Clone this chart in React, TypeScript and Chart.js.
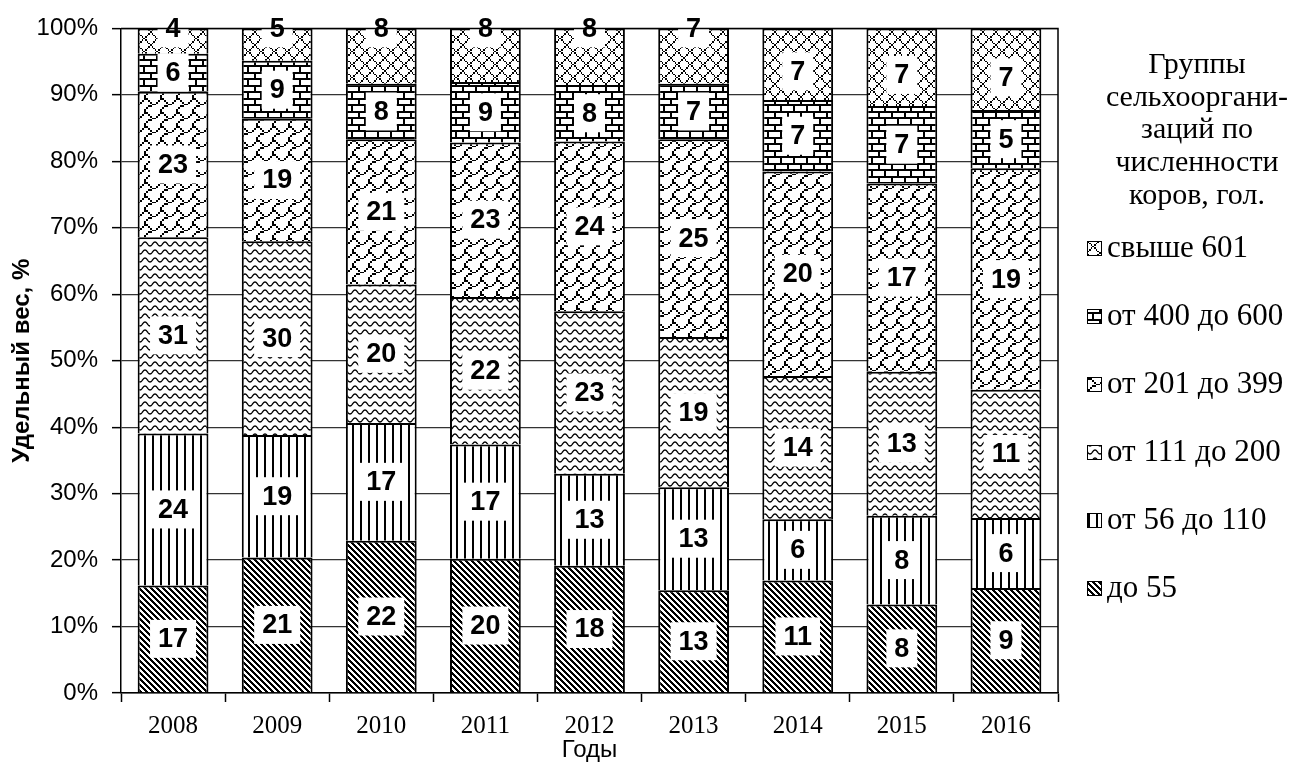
import { useEffect, useRef } from 'react';
import { Chart, registerables } from 'chart.js';

Chart.register(...registerables);

// ---- data ----
const years = ['2008', '2009', '2010', '2011', '2012', '2013', '2014', '2015', '2016'];
const groupNames = ['до 55', 'от 56 до 110', 'от 111 до 200', 'от 201 до 399', 'от 400 до 600', 'свыше 601'];
const upTo55 = [17, 21, 22, 20, 18, 13, 11, 8, 9];
const from56to110 = [24, 19, 17, 17, 13, 13, 6, 8, 6];
const from111to200 = [31, 30, 20, 22, 23, 19, 14, 13, 11];
const from201to399 = [23, 19, 21, 23, 24, 25, 20, 17, 19];
const from400to600 = [6, 9, 8, 9, 8, 7, 7, 7, 5];
const over601 = [4, 5, 8, 8, 8, 7, 7, 7, 7];
const yTickValues = [0, 10, 20, 30, 40, 50, 60, 70, 80, 90, 100];
const yAxisTitle = 'Удельный вес, %';
const xAxisTitle = 'Годы';
const legendTitleLines = ['Группы', 'сельхооргани-', 'заций по', 'численности', 'коров, гол.'];

// ---- pattern helpers ----
function tile(w: number, h: number) {
  const c = document.createElement('canvas');
  c.width = w;
  c.height = h;
  const g = c.getContext('2d')!;
  g.fillStyle = '#fff';
  g.fillRect(0, 0, w, h);
  return { c, g };
}

function bitmapTile(rows: number[], w: number, h: number) {
  const { c, g } = tile(w, h);
  g.fillStyle = '#000';
  for (let py = 0; py < h; py++) {
    for (let px = 0; px < w; px++) {
      const bx = Math.floor((px * 8) / w);
      const by = Math.floor((py * 8) / h);
      if ((rows[by] >> (7 - bx)) & 1) g.fillRect(px, py, 1, 1);
    }
  }
  return c;
}

function makePatterns(ctx: CanvasRenderingContext2D) {
  // до 55: dense downward diagonal
  const d = tile(6, 6);
  d.g.fillStyle = '#000';
  for (let py = 0; py < 6; py++)
    for (let px = 0; px < 6; px++) if ((((px - py) % 6) + 6) % 6 < 3) d.g.fillRect(px, py, 1, 1);

  // от 56 до 110: vertical lines
  const v = tile(8, 8);
  v.g.fillStyle = '#000';
  v.g.fillRect(0, 0, 2, 8);

  // от 111 до 200: horizontal waves
  const w = tile(10, 8);
  w.g.strokeStyle = '#000';
  w.g.lineWidth = 1.3;
  w.g.beginPath();
  for (let x = -1; x <= 11; x += 0.5) {
    const y = 4 + 2 * Math.cos((2 * Math.PI * x) / 10);
    if (x === -1) w.g.moveTo(x, y);
    else w.g.lineTo(x, y);
  }
  w.g.stroke();

  // от 201 до 399: shingle
  const sh = bitmapTile([0xc0, 0x21, 0x12, 0x0c, 0x30, 0x40, 0x80, 0x80], 16, 14);
  // от 400 до 600: horizontal brick
  const br = bitmapTile([0xff, 0x80, 0x80, 0x80, 0xff, 0x08, 0x08, 0x08], 13, 13);
  // свыше 601: outlined diamond
  const di = bitmapTile([0x41, 0x22, 0x14, 0x08, 0x14, 0x22, 0x41, 0x80], 13, 13);

  return [d.c, v.c, w.c, sh, br, di].map((c) => ctx.createPattern(c, 'repeat') as CanvasPattern);
}

export default function App() {
  const ref = useRef<HTMLCanvasElement>(null);

  useEffect(() => {
    const canvas = ref.current!;
    const ctx = canvas.getContext('2d')!;
    const patterns = makePatterns(ctx);
    const series = [upTo55, from56to110, from111to200, from201to399, from400to600, over601];
    const totals = years.map((_, i) => series.reduce((s, arr) => s + arr[i], 0));

    const datasets = series.map((arr, k) => ({
      label: groupNames[k],
      data: arr.map((v, i) => (v / totals[i]) * 100),
      backgroundColor: patterns[k],
      borderColor: '#000',
      borderWidth: 2,
      barPercentage: 0.68,
      categoryPercentage: 1,
    }));

    const labelPlugin = {
      id: 'valueLabels',
      afterDatasetsDraw(chart: any) {
        const c = chart.ctx as CanvasRenderingContext2D;
        c.save();
        c.font = 'bold 27px "Liberation Sans", Arial, sans-serif';
        c.textAlign = 'center';
        c.textBaseline = 'middle';
        const last = series.length - 1;
        series.forEach((arr, k) => {
          const meta = chart.getDatasetMeta(k);
          meta.data.forEach((el: any, i: number) => {
            const top = Math.min(el.y, el.base);
            const bottom = Math.max(el.y, el.base);
            let cy = (top + bottom) / 2;
            if (k === last) {
              const share = (arr[i] / totals[i]) * 100;
              cy = share < 10 ? top : top + 0.6 * (bottom - top);
            }
            const text = String(arr[i]);
            const tw = c.measureText(text).width;
            const bw = tw + 16;
            const bh = 38;
            c.fillStyle = '#fff';
            c.fillRect(el.x - bw / 2, cy - bh / 2, bw, bh);
            c.fillStyle = '#000';
            c.fillText(text, el.x, cy + 1);
          });
        });
        c.restore();
      },
    };

    const framePlugin = {
      id: 'frameAndLegend',
      afterDraw(chart: any) {
        const c = chart.ctx as CanvasRenderingContext2D;
        const a = chart.chartArea;
        c.save();
        c.strokeStyle = '#000';
        c.lineWidth = 1.5;
        c.beginPath();
        c.moveTo(a.left, a.top);
        c.lineTo(a.right, a.top);
        c.lineTo(a.right, a.bottom);
        c.stroke();

        // legend title
        c.fillStyle = '#000';
        c.textAlign = 'center';
        c.textBaseline = 'middle';
        c.font = '30px "Liberation Serif", "Times New Roman", serif';
        legendTitleLines.forEach((line, i) => {
          c.fillText(line, 1197, 65 + i * 32.7);
        });

        // legend items (reverse order)
        c.font = '31px "Liberation Serif", "Times New Roman", serif';
        c.textAlign = 'left';
        const order = groupNames.map((_, k) => k).reverse();
        order.forEach((k, i) => {
          const cy = 248 + i * 68;
          c.fillStyle = patterns[k];
          c.fillRect(1087, cy - 7, 15, 15);
          c.strokeStyle = '#000';
          c.lineWidth = 1;
          c.strokeRect(1087.5, cy - 6.5, 14, 14);
          c.fillStyle = '#000';
          c.fillText(groupNames[k], 1107, cy + 1);
        });
        c.restore();
      },
    };

    const chart = new Chart(ctx, {
      type: 'bar',
      data: { labels: years, datasets: datasets as any },
      options: {
        responsive: false,
        animation: false,
        devicePixelRatio: 1,
        layout: { padding: { left: 0, top: 27, right: 233, bottom: 0 } },
        plugins: { legend: { display: false }, tooltip: { enabled: false } },
        scales: {
          x: {
            stacked: true,
            offset: true,
            grid: {
              display: true,
              drawOnChartArea: false,
              drawTicks: true,
              tickLength: 9,
              tickColor: '#000',
              tickWidth: 1.5,
              offset: true,
            },
            border: { display: true, color: '#000', width: 1.5 },
            ticks: {
              color: '#000',
              font: { family: '"Liberation Serif", "Times New Roman", serif', size: 25 },
              padding: 9,
              maxRotation: 0,
            },
            title: {
              display: true,
              text: xAxisTitle,
              color: '#000',
              font: { family: '"Liberation Sans", Arial, sans-serif', size: 24, lineHeight: 1 },
              padding: { top: 0, bottom: 0 },
            },
            afterFit: (s: any) => {
              s.height = 69;
            },
          },
          y: {
            stacked: true,
            min: 0,
            max: 100,
            afterBuildTicks: (s: any) => {
              s.ticks = yTickValues.map((v) => ({ value: v }));
            },
            grid: {
              color: '#333',
              lineWidth: 1.3,
              drawTicks: true,
              tickLength: 9,
              tickColor: '#000',
              tickWidth: 1.5,
            },
            border: { display: true, color: '#000', width: 1.5 },
            ticks: {
              color: '#000',
              font: { family: '"Liberation Sans", Arial, sans-serif', size: 24 },
              padding: 14,
              callback: (v: any) => v + '%',
            },
            title: {
              display: true,
              text: yAxisTitle,
              color: '#000',
              font: { family: '"Liberation Sans", Arial, sans-serif', size: 24, weight: 'bold', lineHeight: 1.2 },
              padding: { top: 8, bottom: 0 },
            },
            afterFit: (s: any) => {
              s.width = 121;
            },
          },
        },
      },
      plugins: [labelPlugin, framePlugin],
    });

    return () => chart.destroy();
  }, []);

  return (
    <div style={{ position: 'absolute', left: 0, top: 0, width: 1291, height: 762, background: '#fff' }}>
      <canvas ref={ref} width={1291} height={762} style={{ display: 'block', width: 1291, height: 762 }} />
    </div>
  );
}
